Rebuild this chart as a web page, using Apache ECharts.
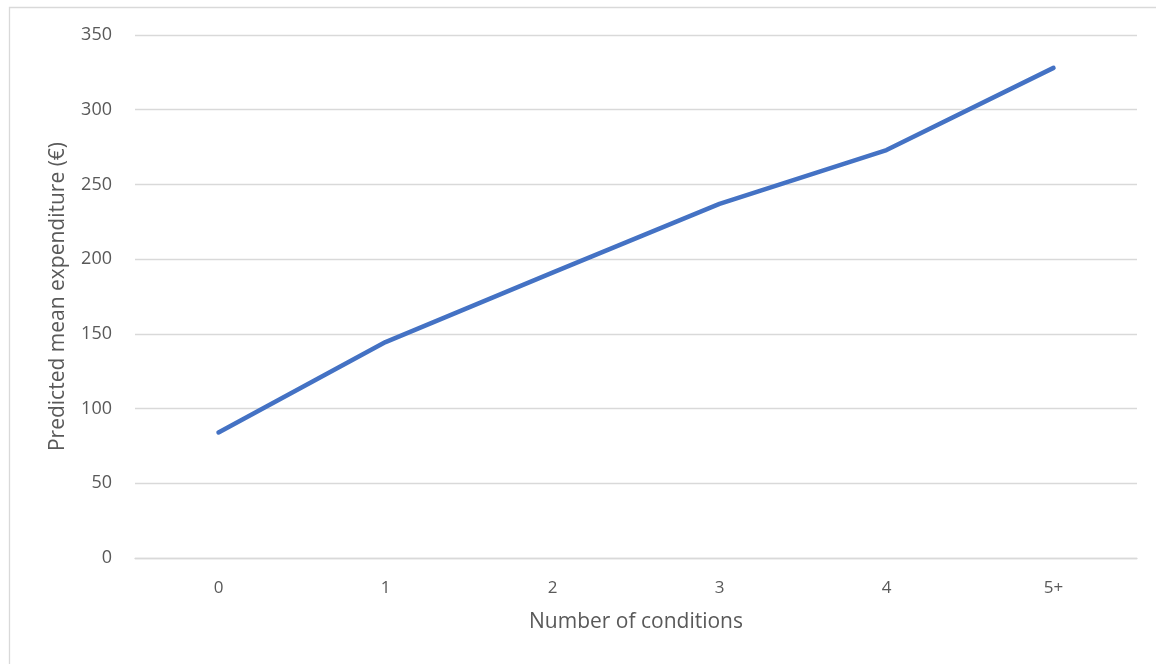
<!DOCTYPE html>
<html>
<head>
<meta charset="utf-8">
<script src="https://cdn.jsdelivr.net/npm/echarts@6/dist/echarts.min.js"></script>
<style>html,body{margin:0;padding:0;background:#fff}#c{width:1156px;height:664px}</style>
</head>
<body>
<div id="c"></div>
<script>
const categories = ['0', '1', '2', '3', '4', '5+'];
const expenditure = [84, 144.5, 191, 237, 273, 328];
const yTicks = { min: 0, max: 350, interval: 50 };

const chart = echarts.init(document.getElementById('c'), null, { renderer: 'canvas' });
chart.setOption({
  animation: false,
  backgroundColor: '#fff',
  textStyle: { fontFamily: 'Open Sans' },
  graphic: [{
    type: 'rect', shape: { x: 9.5, y: 7.5, width: 1200, height: 700 },
    style: { fill: 'none', stroke: '#D9D9D9', lineWidth: 1.3 }, silent: true, z: -1
  }],
  grid: { left: 135, right: 19, top: 35, bottom: 106, containLabel: false },
  xAxis: {
    type: 'category', data: categories, boundaryGap: true,
    name: 'Number of conditions', nameLocation: 'middle', nameGap: 54,
    nameTextStyle: { color: '#595959', fontSize: 21, fontFamily: 'Open Sans' },
    axisLine: { show: true, lineStyle: { color: '#D9D9D9', width: 1.3 } },
    axisTick: { show: false },
    axisLabel: { color: '#595959', fontSize: 17, margin: 22 },
    splitLine: { show: false }
  },
  yAxis: {
    type: 'value', min: yTicks.min, max: yTicks.max, interval: yTicks.interval,
    name: 'Predicted mean expenditure (€)', nameLocation: 'middle', nameGap: 66, nameRotate: 90,
    nameTextStyle: { color: '#595959', fontSize: 21, fontFamily: 'Open Sans' },
    axisLine: { show: false }, axisTick: { show: false },
    axisLabel: { color: '#595959', fontSize: 18, margin: 23 },
    splitLine: { lineStyle: { color: '#D9D9D9', width: 1.3 } }
  },
  series: [{
    type: 'line', data: expenditure, symbol: 'none',
    lineStyle: { color: '#4472C4', width: 4.5, cap: 'round', join: 'round' }
  }]
});
</script>
</body>
</html>
